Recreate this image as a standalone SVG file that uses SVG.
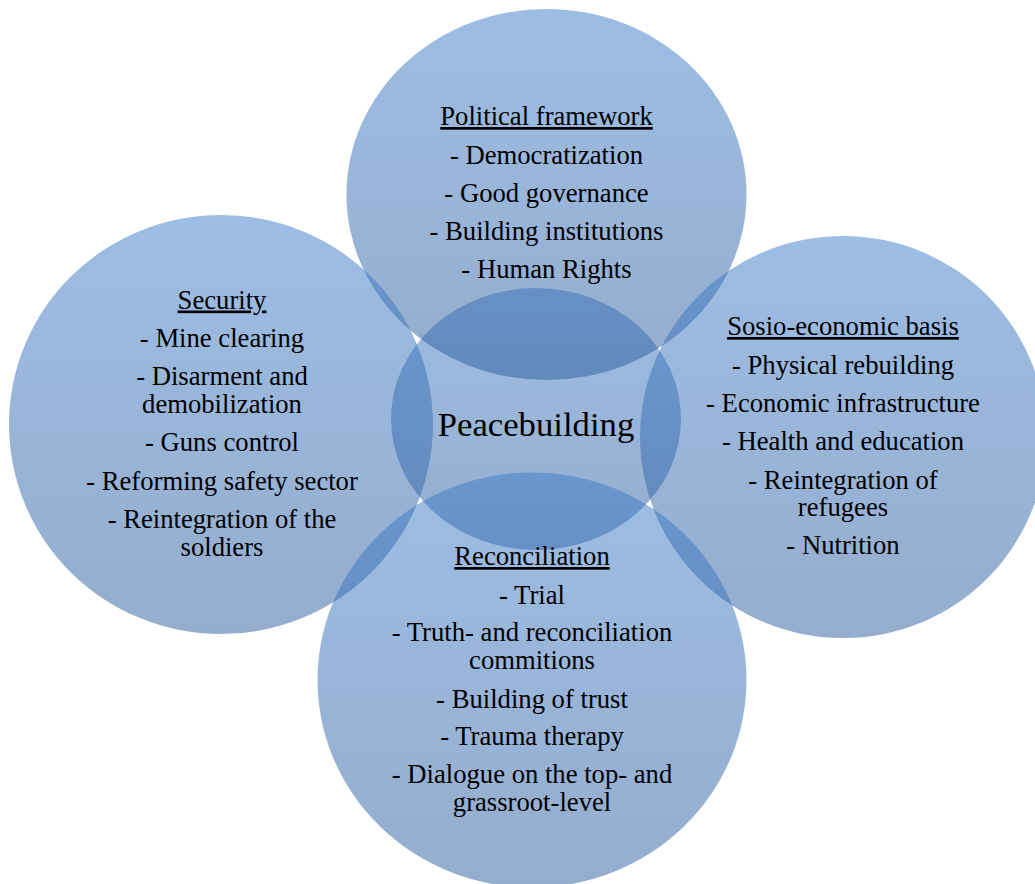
<svg xmlns="http://www.w3.org/2000/svg" width="1035" height="884" viewBox="0 0 1035 884">
  <defs>
    <!-- translucent blue fill: overlapping areas darken where circles stack -->
    <linearGradient id="bubble" x1="0" y1="0" x2="0" y2="1">
      <stop offset="0" stop-color="rgb(59,123,201)" stop-opacity="0.5"/>
      <stop offset="1" stop-color="rgb(43,91,155)" stop-opacity="0.5"/>
    </linearGradient>
    <style>
      .bubble { fill: url(#bubble); stroke: none; }
      text { font-family: "Liberation Serif", "Times New Roman", serif; fill: #000; text-anchor: middle; }
      .item { font-size: 26.67px; }
      .head { font-size: 26.67px; text-decoration: underline; }
      .core { font-size: 34.7px; }
    </style>
  </defs>
  <rect width="1035" height="884" fill="#ffffff"/>

  <!-- central circle -->
  <g id="peacebuilding">
    <ellipse class="bubble" cx="536" cy="419" rx="145" ry="131"/>
    <text class="core" x="536" y="436">Peacebuilding</text>
  </g>

  <!-- top circle -->
  <g id="political-framework">
    <ellipse class="bubble" cx="546.5" cy="194.5" rx="200" ry="185.5"/>
    <text class="head" x="546.5" y="125">Political framework</text>
    <text class="item" x="546.5" y="164">- Democratization</text>
    <text class="item" x="546.5" y="202">- Good governance</text>
    <text class="item" x="546.5" y="240">- Building institutions</text>
    <text class="item" x="546.5" y="277.5">- Human Rights</text>
  </g>

  <!-- left circle -->
  <g id="security">
    <ellipse class="bubble" cx="221" cy="424.5" rx="212" ry="209.5"/>
    <text class="head" x="222" y="308.5">Security</text>
    <text class="item" x="222" y="347">- Mine clearing</text>
    <text class="item" x="222" y="385">- Disarment and</text>
    <text class="item" x="222" y="413">demobilization</text>
    <text class="item" x="222" y="451">- Guns control</text>
    <text class="item" x="222" y="489.5">- Reforming safety sector</text>
    <text class="item" x="222" y="528">- Reintegration of the</text>
    <text class="item" x="222" y="555.5">soldiers</text>
  </g>

  <!-- right circle -->
  <g id="socio-economic-basis">
    <ellipse class="bubble" cx="843" cy="437" rx="203" ry="201"/>
    <text class="head" x="843" y="335">Sosio-economic basis</text>
    <text class="item" x="843" y="373.5">- Physical rebuilding</text>
    <text class="item" x="843" y="412">- Economic infrastructure</text>
    <text class="item" x="843" y="450">- Health and education</text>
    <text class="item" x="843" y="488.5">- Reintegration of</text>
    <text class="item" x="843" y="516">refugees</text>
    <text class="item" x="843" y="553.5">- Nutrition</text>
  </g>

  <!-- bottom circle -->
  <g id="reconciliation">
    <ellipse class="bubble" cx="532" cy="680" rx="214.5" ry="207.5"/>
    <text class="head" x="532" y="565">Reconciliation</text>
    <text class="item" x="532" y="603.5">- Trial</text>
    <text class="item" x="532" y="641">- Truth- and reconciliation</text>
    <text class="item" x="532" y="668.5">commitions</text>
    <text class="item" x="532" y="707.5">- Building of trust</text>
    <text class="item" x="532" y="745">- Trauma therapy</text>
    <text class="item" x="532" y="782.5">- Dialogue on the top- and</text>
    <text class="item" x="532" y="810.5">grassroot-level</text>
  </g>
</svg>
